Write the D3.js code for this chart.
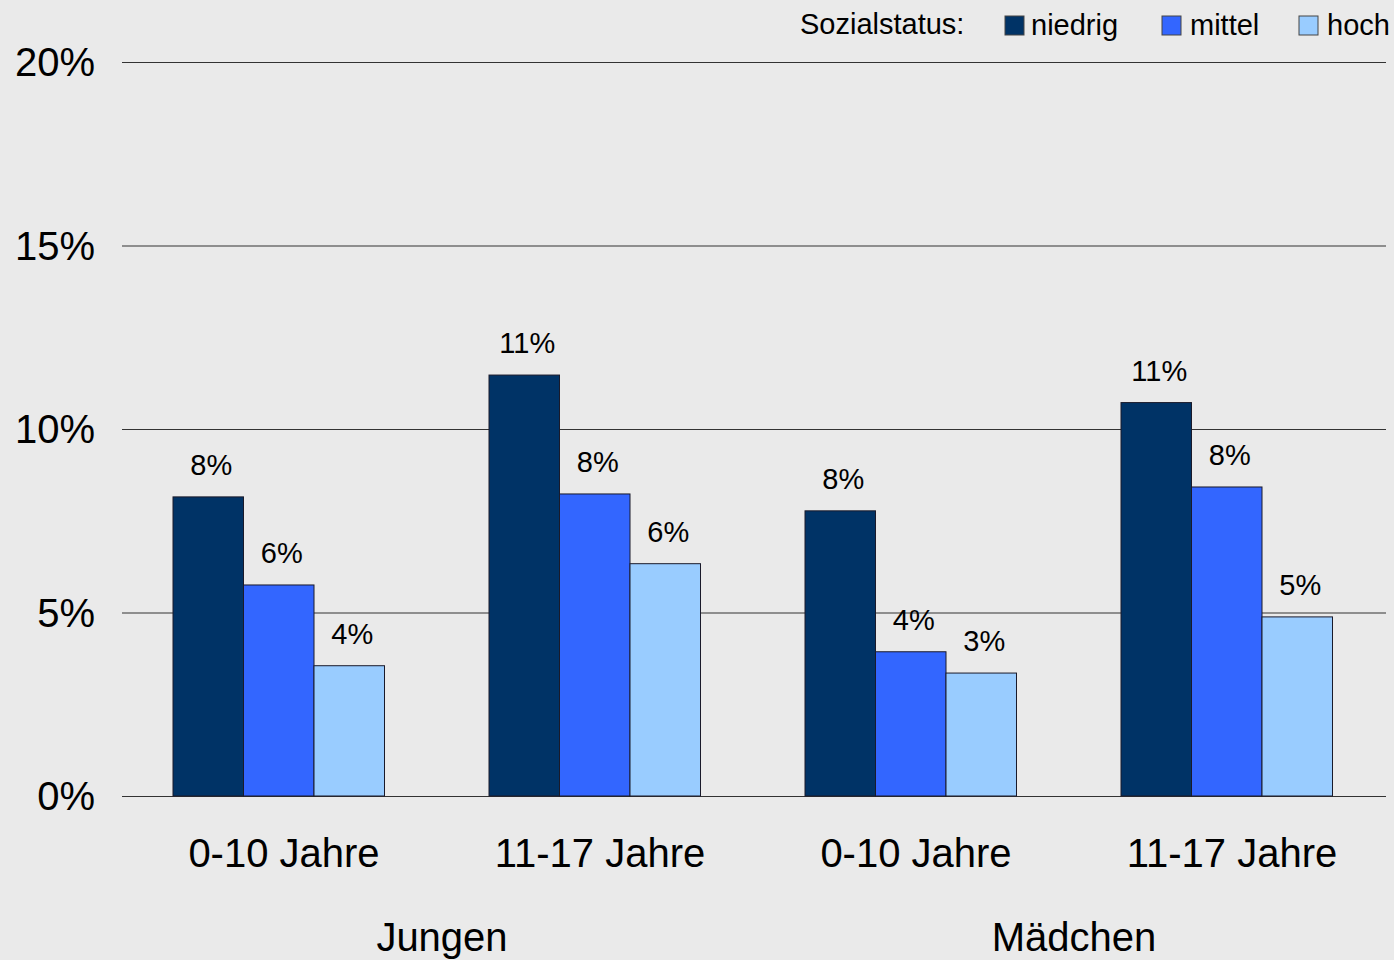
<!DOCTYPE html>
<html>
<head>
<meta charset="utf-8">
<script src="https://cdn.jsdelivr.net/npm/d3@7"></script>
<style>
  body { margin: 0; background: #eaeaea; }
  svg { display: block; font-family: "Liberation Sans", Arial, sans-serif; }
</style>
</head>
<body>
<div id="plot"></div>
<script>
// data
var categories = ["0-10 Jahre", "11-17 Jahre", "0-10 Jahre", "11-17 Jahre"];
var groups = ["Jungen", "Mädchen"];
var series = ["niedrig", "mittel", "hoch"];
var niedrig = [8.15, 11.47, 7.77, 10.72];
var mittel = [5.75, 8.23, 3.93, 8.42];
var hoch = [3.55, 6.33, 3.35, 4.88];
var labels = [["8%", "6%", "4%"], ["11%", "8%", "6%"], ["8%", "4%", "3%"], ["11%", "8%", "5%"]];
var yTicks = [0, 5, 10, 15, 20];
var colors = ["#003366", "#3366ff", "#99ccff"];

var W = 1394, H = 960;
var margin = {top: 62, right: 8, bottom: 164, left: 122},
    width = W - margin.left - margin.right,
    height = H - margin.top - margin.bottom;

var svg = d3.select("#plot").append("svg")
    .attr("width", W).attr("height", H)
  .append("g")
    .attr("transform", "translate(" + margin.left + "," + margin.top + ")");

var values = categories.map(function(c, i) {
  return {i: i, vals: [niedrig[i], mittel[i], hoch[i]]};
});

var x0 = d3.scaleBand().domain(d3.range(categories.length)).range([0, width]);
var x1 = d3.scaleBand().domain(series).range([51, 51 + 211.5]);
var xg = d3.scaleBand().domain(groups).range([0, width]);
var y = d3.scaleLinear().domain([0, 20]).range([height, 0]);

// gridlines
svg.append("g")
  .call(d3.axisLeft(y).tickValues(yTicks).tickSize(-width).tickFormat(""))
  .call(function(g) {
    g.select(".domain").remove();
    g.selectAll(".tick line").attr("stroke", "#333").attr("stroke-width", 1);
  });

// y labels
svg.append("g").selectAll("text")
  .data(yTicks).enter().append("text")
    .attr("x", -27)
    .attr("y", function(d) { return y(d); })
    .attr("dy", "0.35em")
    .attr("text-anchor", "end")
    .attr("font-size", 40)
    .attr("fill", "#000")
    .text(function(d) { return d + "%"; });

// bars
var grp = svg.append("g").selectAll("g")
  .data(values).enter().append("g")
    .attr("transform", function(d) { return "translate(" + x0(d.i) + ",0)"; });

grp.selectAll("rect")
  .data(function(d) { return d.vals.map(function(v, j) { return {v: v, s: series[j], j: j}; }); })
  .enter().append("rect")
    .attr("x", function(d) { return x1(d.s); })
    .attr("y", function(d) { return y(d.v); })
    .attr("width", x1.bandwidth())
    .attr("height", function(d) { return height - y(d.v); })
    .attr("fill", function(d) { return colors[d.j]; })
    .attr("stroke", "#1a1a2a")
    .attr("stroke-width", 1);

grp.selectAll("text")
  .data(function(d) { return d.vals.map(function(v, j) { return {v: v, s: series[j], t: labels[d.i][j]}; }); })
  .enter().append("text")
    .attr("x", function(d) { return x1(d.s) + x1.bandwidth() / 2 + 3; })
    .attr("y", function(d) { return y(d.v) - 22; })
    .attr("text-anchor", "middle")
    .attr("font-size", 29)
    .attr("fill", "#000")
    .text(function(d) { return d.t; });

// category labels
svg.append("g").selectAll("text")
  .data(categories).enter().append("text")
    .attr("x", function(d, i) { return x0(i) + x0.bandwidth() / 2 + 4; })
    .attr("y", height + 71)
    .attr("text-anchor", "middle")
    .attr("font-size", 40)
    .attr("fill", "#000")
    .text(function(d) { return d; });

svg.append("g").selectAll("text")
  .data(groups).enter().append("text")
    .attr("x", function(d) { return xg(d) + xg.bandwidth() / 2 + 4; })
    .attr("y", height + 155)
    .attr("text-anchor", "middle")
    .attr("font-size", 40)
    .attr("fill", "#000")
    .text(function(d) { return d; });

// legend
var legend = d3.select("svg").append("g");
legend.append("text")
  .attr("x", 800).attr("y", 34)
  .attr("font-size", 29)
  .attr("fill", "#000")
  .text("Sozialstatus:");
var legX = [1005, 1162, 1299];
series.forEach(function(s, j) {
  legend.append("rect")
    .attr("x", legX[j]).attr("y", 16)
    .attr("width", 19).attr("height", 19)
    .attr("fill", colors[j])
    .attr("stroke", "#444");
  legend.append("text")
    .attr("x", legX[j] + (j == 0 ? 26 : 28)).attr("y", 35)
    .attr("font-size", 29)
    .attr("fill", "#000")
    .text(s);
});
</script>
</body>
</html>
